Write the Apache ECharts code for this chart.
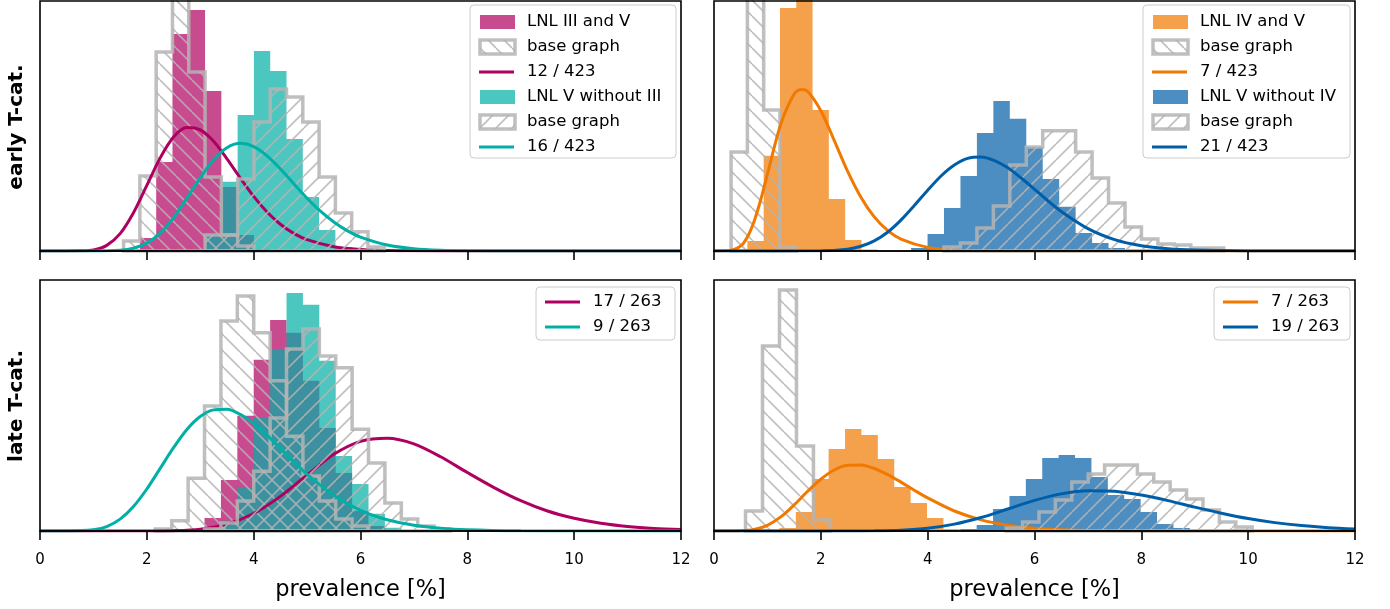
<!DOCTYPE html>
<html><head><meta charset="utf-8">
<script src="https://cdn.jsdelivr.net/npm/echarts@6/dist/echarts.min.js"></script>
<style>html,body{margin:0;padding:0;background:#fff}#c{width:1390px;height:609px}</style>
</head><body><div id="c"></div>
<script>
// ================= DATA =================
const xTicks = [0, 2, 4, 6, 8, 10, 12];
const rowLabels = ['early T-cat.', 'late T-cat.'];
const xLabel = 'prevalence [%]';

// --- early T-cat., LNL III (left top) ---
const earlyIII_start = 1.87, earlyIII_width = 0.305;
const earlyIII = [0.051, 0.349, 0.851, 0.945, 0.627, 0.251, 0.063, 0.008];
const earlyIIIBase_start = 1.565, earlyIIIBase_width = 0.305;
const earlyIIIBase = [0.039, 0.294, 0.780, 1.09, 0.702, 0.290, 0.063, 0.020];
const earlyIII_curve = [[0,0],[0.5,0],[0.75,0.0005],[1,0.004],[1.25,0.022],[1.5,0.068],[1.75,0.150],[2,0.257],[2.25,0.365],[2.5,0.447],[2.75,0.484],[3,0.475],[3.25,0.430],[3.5,0.361],[3.75,0.286],[4,0.214],[4.25,0.153],[4.5,0.105],[4.75,0.069],[5,0.0445],[5.5,0.0167],[6,0.0057],[6.5,0.0018],[7,0.0005],[8,0],[12,0]];
const earlyVnoIII_start = 3.09, earlyVnoIII_width = 0.305;
const earlyVnoIII = [0.067, 0.271, 0.533, 0.784, 0.706, 0.439, 0.212, 0.082, 0.016];
const earlyVnoIIIBase_start = 3.09, earlyVnoIIIBase_width = 0.305;
const earlyVnoIIIBase = [0.063, 0.063, 0.282, 0.506, 0.635, 0.604, 0.506, 0.290, 0.149, 0.075, 0.016];
const earlyVnoIII_curve = [[0,0],[1,0],[1.5,0.0026],[1.75,0.0105],[2,0.0307],[2.25,0.070],[2.5,0.130],[2.75,0.207],[3,0.287],[3.25,0.358],[3.5,0.405],[3.75,0.422],[4,0.409],[4.25,0.373],[4.5,0.322],[4.75,0.264],[5,0.207],[5.25,0.156],[5.5,0.114],[5.75,0.080],[6,0.0547],[6.5,0.0235],[7,0.0092],[7.5,0.0033],[8,0.0011],[9,0],[12,0]];

// --- early T-cat., LNL IV (right top) ---
const earlyIV_start = 0.625, earlyIV_width = 0.305;
const earlyIV = [0.039, 0.373, 0.953, 1.11, 0.553, 0.204, 0.043, 0.006];
const earlyIVBase_start = 0.32, earlyIVBase_width = 0.305;
const earlyIVBase = [0.388, 2.32, 0.553, 0.016];
const earlyIV_curve = [[0,0],[0.25,0.0005],[0.5,0.0197],[0.625,0.055],[0.75,0.116],[0.875,0.201],[1,0.301],[1.25,0.497],[1.5,0.615],[1.625,0.633],[1.75,0.626],[2,0.550],[2.25,0.434],[2.5,0.313],[2.75,0.211],[3,0.134],[3.25,0.081],[3.5,0.047],[4,0.0143],[4.5,0.0039],[5,0.001],[6,0],[12,0]];
const earlyVnoIV_start = 3.69, earlyVnoIV_width = 0.308;
const earlyVnoIV = [0.012, 0.067, 0.169, 0.294, 0.463, 0.588, 0.518, 0.408, 0.282, 0.173, 0.071, 0.031, 0.012];
const earlyVnoIVBase_start = 4.306, earlyVnoIVBase_width = 0.308;
const earlyVnoIVBase = [0.016, 0.031, 0.090, 0.176, 0.337, 0.408, 0.471, 0.471, 0.388, 0.286, 0.188, 0.094, 0.047, 0.027, 0.024, 0.012, 0.012];
const earlyVnoIV_curve = [[0,0],[2,0.0006],[2.5,0.0072],[2.75,0.0185],[3,0.0397],[3.25,0.0737],[3.5,0.121],[3.75,0.178],[4,0.238],[4.25,0.294],[4.5,0.337],[4.75,0.363],[5,0.368],[5.25,0.354],[5.5,0.326],[5.75,0.286],[6,0.242],[6.25,0.197],[6.5,0.155],[7,0.0877],[7.5,0.0446],[8,0.0207],[8.5,0.0088],[9,0.0035],[10,0.0004],[12,0]];

// --- late T-cat., LNL III (left bottom) ---
const lateIII_start = 2.773, lateIII_width = 0.307;
const lateIII = [0.006, 0.037, 0.146, 0.329, 0.489, 0.603, 0.566, 0.429, 0.294, 0.166, 0.057, 0.014, 0.006];
const lateIIIBase_start = 2.159, lateIIIBase_width = 0.307;
const lateIIIBase = [0.006, 0.029, 0.151, 0.357, 0.600, 0.671, 0.566, 0.429, 0.271, 0.157, 0.086, 0.034, 0.014];
const lateIII_curve = [[0,0],[2,0.0001],[2.5,0.0009],[3,0.0053],[3.5,0.0195],[4,0.050],[4.5,0.099],[5,0.160],[5.5,0.219],[6,0.256],[6.5,0.265],[7,0.249],[7.5,0.212],[8,0.167],[8.5,0.124],[9,0.0865],[9.5,0.057],[10,0.0362],[10.5,0.022],[11,0.0129],[11.5,0.0073],[12,0.004]];
const lateVnoIII_start = 3.08, lateVnoIII_width = 0.307;
const lateVnoIII = [0.006, 0.029, 0.123, 0.323, 0.520, 0.680, 0.646, 0.486, 0.214, 0.134, 0.049, 0.009];
const lateVnoIIIBase_start = 3.08, lateVnoIIIBase_width = 0.307;
const lateVnoIIIBase = [0.006, 0.023, 0.086, 0.171, 0.323, 0.520, 0.577, 0.500, 0.466, 0.291, 0.194, 0.080, 0.034, 0.014, 0.006];
const lateVnoIII_curve = [[0,0],[0.5,0],[1,0.0033],[1.25,0.0128],[1.5,0.034],[1.75,0.070],[2,0.120],[2.25,0.179],[2.5,0.238],[2.75,0.290],[3,0.327],[3.25,0.346],[3.5,0.348],[3.75,0.333],[4,0.307],[4.25,0.274],[4.5,0.236],[4.75,0.198],[5,0.162],[5.5,0.102],[6,0.059],[6.5,0.032],[7,0.0167],[7.5,0.0082],[8,0.0039],[9,0.0007],[10,0],[12,0]];

// --- late T-cat., LNL IV (right bottom) ---
const lateIV_start = 1.225, lateIV_width = 0.307;
const lateIV = [0.018, 0.113, 0.310, 0.488, 0.607, 0.571, 0.429, 0.262, 0.167, 0.077, 0.012];
const lateIVBase_start = 0.59, lateIVBase_width = 0.318;
const lateIVBase = [0.119, 1.101, 1.435, 0.506, 0.065];
const lateIV_curve = [[0,0],[0.25,0],[0.5,0.001],[0.75,0.0088],[1,0.034],[1.25,0.0838],[1.5,0.155],[1.75,0.235],[2,0.308],[2.25,0.363],[2.5,0.391],[2.75,0.393],[3,0.372],[3.25,0.336],[3.5,0.291],[3.75,0.243],[4,0.197],[4.5,0.119],[5,0.0664],[5.5,0.0343],[6,0.0168],[6.5,0.0078],[7,0.0035],[8,0.0006],[9,0],[12,0]];
const lateVnoIV_start = 4.61, lateVnoIV_width = 0.307;
const lateVnoIV = [0.012, 0.036, 0.131, 0.208, 0.310, 0.435, 0.452, 0.435, 0.321, 0.214, 0.190, 0.113, 0.042, 0.018];
const lateVnoIVBase_start = 5.47, lateVnoIVBase_width = 0.307;
const lateVnoIVBase = [0.018, 0.054, 0.113, 0.185, 0.292, 0.339, 0.393, 0.393, 0.339, 0.292, 0.244, 0.190, 0.125, 0.054, 0.024];
const lateVnoIV_curve = [[0,0],[2.5,0.0001],[3,0.001],[3.5,0.0049],[4,0.0164],[4.5,0.041],[5,0.0805],[5.5,0.131],[6,0.182],[6.5,0.221],[7,0.240],[7.5,0.237],[8,0.214],[8.5,0.181],[9,0.142],[9.5,0.106],[10,0.0742],[10.5,0.0498],[11,0.0321],[11.5,0.0199],[12,0.0119]];

// legend labels
const legendTL = ['LNL III and V', 'base graph', '12 / 423', 'LNL V without III', 'base graph', '16 / 423'];
const legendTR = ['LNL IV and V', 'base graph', '7 / 423', 'LNL V without IV', 'base graph', '21 / 423'];
const legendBL = ['17 / 263', '9 / 263'];
const legendBR = ['7 / 263', '19 / 263'];

// ================= STYLE =================
const FONT = '"DejaVu Sans", Verdana, sans-serif';
const C = {
  pink: '#ae0060', pinkFill: 'rgba(174,0,96,0.7)',
  teal: '#00afa5', tealFill: 'rgba(0,175,165,0.7)',
  orange: '#f17900', orangeFill: 'rgba(241,121,0,0.7)',
  blue: '#005ea8', blueFill: 'rgba(0,94,168,0.7)'
};
const GREY = 'rgba(180,180,180,0.85)';

function makeHatch(dir) {
  const s = 16;
  const c = document.createElement('canvas');
  c.width = s; c.height = s;
  const g = c.getContext('2d');
  g.strokeStyle = GREY; g.lineWidth = 1.6;
  g.beginPath();
  for (let k = -1; k <= 1; k++) {
    if (dir === '/') { g.moveTo(k * s, s); g.lineTo(k * s + s, 0); }
    else { g.moveTo(k * s, 0); g.lineTo(k * s + s, s); }
  }
  g.stroke();
  return c;
}
const hatchBack = { image: makeHatch('\\'), repeat: 'repeat' };
const hatchFwd = { image: makeHatch('/'), repeat: 'repeat' };

function histSeries(gi, z, start, width, heights, style) {
  return {
    type: 'custom', xAxisIndex: gi, yAxisIndex: gi, z: z, silent: true,
    data: heights.map((h, i) => [start + i * width, start + (i + 1) * width, h]),
    encode: { x: [0, 1], y: 2 },
    renderItem(params, api) {
      if (params.dataIndex !== 0) return null;
      const cs = params.coordSys;
      const yTop = cs.y - 5;
      const pts = [api.coord([start, 0])];
      heights.forEach((h, i) => {
        const a = api.coord([start + i * width, h]);
        const b = api.coord([start + (i + 1) * width, h]);
        pts.push([a[0], Math.max(a[1], yTop)]);
        pts.push([b[0], Math.max(b[1], yTop)]);
      });
      pts.push(api.coord([start + heights.length * width, 0]));
      return { type: 'polygon', shape: { points: pts }, style: style };
    }
  };
}
function solid(gi, z, start, width, heights, fill) {
  return histSeries(gi, z, start, width, heights, { fill: fill, stroke: null });
}
function base(gi, z, start, width, heights, pattern) {
  return histSeries(gi, z, start, width, heights, { fill: pattern, stroke: GREY, lineWidth: 3.5, lineJoin: 'miter' });
}
function curve(gi, z, data, color) {
  return {
    type: 'line', xAxisIndex: gi, yAxisIndex: gi, z: z, data: data, smooth: 0.3,
    showSymbol: false, symbol: 'none', silent: true, clip: true,
    lineStyle: { color: color, width: 3 }
  };
}

const grids = [
  { left: 40, top: 1, width: 641, height: 250 },
  { left: 714, top: 1, width: 641, height: 250 },
  { left: 40, top: 280, width: 641, height: 251 },
  { left: 714, top: 280, width: 641, height: 251 }
].map(g => Object.assign(g, { show: true, borderColor: '#000', borderWidth: 1.6, backgroundColor: 'transparent', z: 40, outerBoundsMode: 'none', containLabel: false }));
const yMax = [0.98, 0.98, 0.717, 1.494];

const xAxes = grids.map((g, i) => ({
  gridIndex: i, type: 'value', min: xTicks[0], max: xTicks[xTicks.length - 1], interval: 2, z: 41,
  axisLine: { show: true, onZero: false, lineStyle: { color: '#000', width: 1.6 } },
  axisTick: { show: true, length: 9, lineStyle: { color: '#000', width: 1.6 } },
  axisLabel: { show: i >= 2, margin: 22, fontSize: 15, color: '#000', fontFamily: FONT },
  splitLine: { show: false },
  name: i >= 2 ? xLabel : '', nameLocation: 'middle', nameGap: 48,
  nameTextStyle: { fontSize: 22.5, color: '#000', fontFamily: FONT }
}));
const yAxes = grids.map((g, i) => ({
  gridIndex: i, type: 'value', min: 0, max: yMax[i],
  axisLine: { show: false }, axisTick: { show: false }, axisLabel: { show: false }, splitLine: { show: false }
}));

// draw order per panel: hist A, hist B, base A, curve A, base B, curve B
const series = [
  // top-left
  solid(0, 2, earlyIII_start, earlyIII_width, earlyIII, C.pinkFill),
  solid(0, 3, earlyVnoIII_start, earlyVnoIII_width, earlyVnoIII, C.tealFill),
  base(0, 4, earlyIIIBase_start, earlyIIIBase_width, earlyIIIBase, hatchBack),
  curve(0, 5, earlyIII_curve, C.pink),
  base(0, 6, earlyVnoIIIBase_start, earlyVnoIIIBase_width, earlyVnoIIIBase, hatchFwd),
  curve(0, 7, earlyVnoIII_curve, C.teal),
  // top-right
  solid(1, 2, earlyIV_start, earlyIV_width, earlyIV, C.orangeFill),
  solid(1, 3, earlyVnoIV_start, earlyVnoIV_width, earlyVnoIV, C.blueFill),
  base(1, 4, earlyIVBase_start, earlyIVBase_width, earlyIVBase, hatchBack),
  curve(1, 5, earlyIV_curve, C.orange),
  base(1, 6, earlyVnoIVBase_start, earlyVnoIVBase_width, earlyVnoIVBase, hatchFwd),
  curve(1, 7, earlyVnoIV_curve, C.blue),
  // bottom-left
  solid(2, 2, lateIII_start, lateIII_width, lateIII, C.pinkFill),
  solid(2, 3, lateVnoIII_start, lateVnoIII_width, lateVnoIII, C.tealFill),
  base(2, 4, lateIIIBase_start, lateIIIBase_width, lateIIIBase, hatchBack),
  curve(2, 5, lateIII_curve, C.pink),
  base(2, 6, lateVnoIIIBase_start, lateVnoIIIBase_width, lateVnoIIIBase, hatchFwd),
  curve(2, 7, lateVnoIII_curve, C.teal),
  // bottom-right
  solid(3, 2, lateIV_start, lateIV_width, lateIV, C.orangeFill),
  solid(3, 3, lateVnoIV_start, lateVnoIV_width, lateVnoIV, C.blueFill),
  base(3, 4, lateIVBase_start, lateIVBase_width, lateIVBase, hatchBack),
  curve(3, 5, lateIV_curve, C.orange),
  base(3, 6, lateVnoIVBase_start, lateVnoIVBase_width, lateVnoIVBase, hatchFwd),
  curve(3, 7, lateVnoIV_curve, C.blue)
];

// ================= LEGENDS (graphic) =================
const graphics = [];
function legend(x, y, w, off, labels, kinds) {
  const h = labels.length * 25 + 3;
  graphics.push({ type: 'rect', z: 100, shape: { x: x, y: y, width: w, height: h, r: 4 },
    style: { fill: 'rgba(255,255,255,0.8)', stroke: '#cccccc', lineWidth: 1 } });
  labels.forEach((lab, i) => {
    const cy = y + off + i * 25;
    const k = kinds[i];
    if (k.type === 'patch') {
      graphics.push({ type: 'rect', z: 101, shape: { x: x + 10, y: cy - 7, width: 35, height: 14 }, style: { fill: k.color } });
    } else if (k.type === 'hatch') {
      graphics.push({ type: 'rect', z: 101, shape: { x: x + 10, y: cy - 7, width: 35, height: 14 }, style: { fill: k.pattern, stroke: GREY, lineWidth: 3.5 } });
    } else {
      graphics.push({ type: 'line', z: 101, shape: { x1: x + 9, y1: cy, x2: x + 44, y2: cy }, style: { stroke: k.color, lineWidth: 3 } });
    }
    graphics.push({ type: 'text', z: 101, x: x + 57, y: cy,
      style: { text: lab, font: '16.5px ' + FONT, fill: '#000', verticalAlign: 'middle', textVerticalAlign: 'middle' } });
  });
}
legend(470, 5, 206, 17, legendTL, [
  { type: 'patch', color: C.pinkFill }, { type: 'hatch', pattern: hatchBack }, { type: 'line', color: C.pink },
  { type: 'patch', color: C.tealFill }, { type: 'hatch', pattern: hatchFwd }, { type: 'line', color: C.teal }]);
legend(1143, 5, 207, 17, legendTR, [
  { type: 'patch', color: C.orangeFill }, { type: 'hatch', pattern: hatchBack }, { type: 'line', color: C.orange },
  { type: 'patch', color: C.blueFill }, { type: 'hatch', pattern: hatchFwd }, { type: 'line', color: C.blue }]);
legend(536, 287, 139, 15, legendBL, [{ type: 'line', color: C.pink }, { type: 'line', color: C.teal }]);
legend(1214, 287, 136, 15, legendBR, [{ type: 'line', color: C.orange }, { type: 'line', color: C.blue }]);

// row labels
[[rowLabels[0], 127], [rowLabels[1], 406]].forEach(([t, cy]) => {
  graphics.push({ type: 'text', z: 101, x: 17, y: cy, rotation: Math.PI / 2,
    style: { text: t, font: 'bold 20px ' + FONT, fill: '#000', align: 'center', textAlign: 'center', verticalAlign: 'middle', textVerticalAlign: 'middle' } });
});

const chart = echarts.init(document.getElementById('c'), null, { renderer: 'canvas', width: 1390, height: 609 });
chart.setOption({
  animation: false,
  backgroundColor: '#fff',
  grid: grids, xAxis: xAxes, yAxis: yAxes, series: series, graphic: graphics
});
</script>
</body></html>
